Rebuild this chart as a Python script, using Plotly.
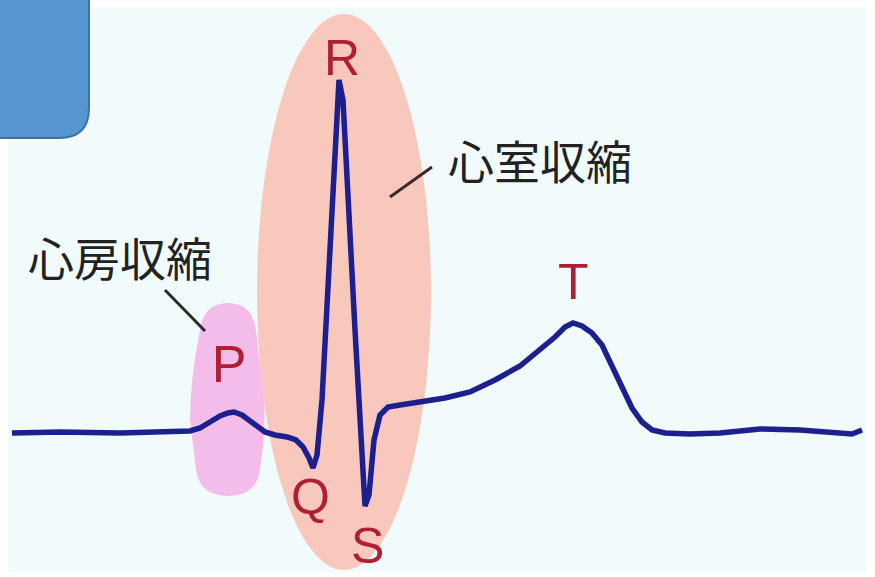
import plotly.graph_objects as go

# ECG trace (time units, signal units; y axis reversed)
ecg_t = [12, 60, 120, 170, 190, 200, 210, 220, 228, 234, 242, 250, 258, 265, 275, 287, 296,
         303, 309, 313, 317, 322, 339, 343, 355, 365, 369, 374, 380, 388, 400, 420, 445,
         470, 495, 520, 540, 555, 565, 573, 582, 592, 602, 612, 622, 632, 642, 652, 665,
         690, 720, 760, 800, 840, 852, 862]
ecg_v = [433, 432, 433, 432, 431, 428, 422, 416, 413, 412, 415, 421, 428, 432, 435, 437, 440,
         447, 458, 468, 455, 400, 80, 100, 330, 506, 495, 440, 415, 407, 405, 402, 398,
         392, 380, 366, 350, 337, 327, 323, 326, 333, 345, 365, 388, 408, 422, 430, 433,
         434, 433, 429, 430, 433, 434, 430]

wave_labels = ["R", "Q", "S", "T"]
wave_label_t = [342, 310, 367, 573]
wave_label_v = [58, 497, 546, 282]

phase_labels = ["心房収縮", "心室収縮"]
phase_label_t = [120, 540]
phase_label_v = [256, 159]

fig = go.Figure()

# P label as text trace so the pink shape can partially cover it
fig.add_trace(go.Scatter(x=[229], y=[369], mode="text", text=["P"],
                         textfont=dict(family="Liberation Sans, Arial", size=52, color="#b01e35"),
                         hoverinfo="skip", showlegend=False))

fig.add_trace(go.Scatter(x=ecg_t, y=ecg_v, mode="lines",
                         line=dict(color="#1c1f8f", width=5.5),
                         hoverinfo="skip", showlegend=False))

shapes = [
    # light panel background
    dict(type="rect", xref="x", yref="y", x0=8, x1=866, y0=7, y1=572,
         fillcolor="#f2fbfc", line=dict(width=0), layer="below"),
    # ventricular ellipse
    dict(type="circle", xref="x", yref="y", x0=257, x1=431, y0=14, y1=570,
         fillcolor="#f9c8bd", line=dict(width=0), layer="below"),
    # atrial blob
    dict(type="path", xref="x", yref="y",
         path="M 200 330 Q 204 303 228 303 Q 252 303 256 330 L 264 400 Q 266 430 260 470 "
              "Q 256 496 228 496 Q 200 496 196 470 L 190 420 Q 190 380 200 330 Z",
         fillcolor="#f4bde9", line=dict(width=0), layer="below"),
    # cover lower part of the P
    dict(type="rect", xref="x", yref="y", x0=206, x1=252, y0=384, y1=404,
         fillcolor="#f4bde9", line=dict(width=0), layer="above"),
    # leader lines
    dict(type="line", xref="x", yref="y", x0=165, y0=290, x1=205, y1=331,
         line=dict(color="#2a2a2a", width=3)),
    dict(type="line", xref="x", yref="y", x0=390, y0=197, x1=432, y1=167,
         line=dict(color="#3a2a2a", width=3)),
    # blue rounded box
    dict(type="path", xref="x", yref="y",
         path="M -10 -10 L 89 -10 L 89 108 Q 89 138 59 138 L -10 138 Z",
         fillcolor="#5595d0", line=dict(color="#41719c", width=2), layer="above"),
]

annotations = []
for lab, t, v in zip(wave_labels, wave_label_t, wave_label_v):
    annotations.append(dict(x=t, y=v, xref="x", yref="y", text=lab, showarrow=False,
                            font=dict(family="Liberation Sans, Arial", size=50, color="#b01e35")))
for lab, t, v in zip(phase_labels, phase_label_t, phase_label_v):
    annotations.append(dict(x=t, y=v, xref="x", yref="y", text=lab, showarrow=False,
                            font=dict(family="Noto Sans CJK JP", size=46, color="#222222")))

fig.update_layout(
    width=875, height=577,
    margin=dict(l=0, r=0, t=0, b=0),
    paper_bgcolor="#ffffff", plot_bgcolor="#ffffff",
    xaxis=dict(range=[0, 875], visible=False, fixedrange=True),
    yaxis=dict(range=[577, 0], visible=False, fixedrange=True),
    shapes=shapes, annotations=annotations, showlegend=False,
)

fig.write_html("out.html", config={"displayModeBar": False},
               post_script="document.body.style.margin='0';document.body.style.overflow='hidden';")
